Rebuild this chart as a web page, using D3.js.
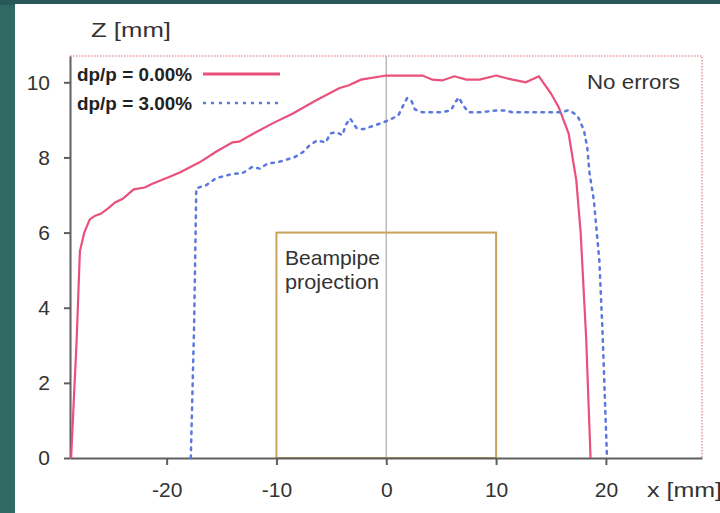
<!DOCTYPE html>
<html>
<head>
<meta charset="utf-8">
<script src="https://cdn.jsdelivr.net/npm/d3@7"></script>
<style>
  body { margin: 0; background: #306963; }
  svg { display: block; font-family: "Liberation Sans", Arial, sans-serif; }
  .ejes text { fill: #333; font-size: 21px; }
  .ejes path, .ejes line { stroke: #5f5f5f; stroke-width: 2; }
</style>
</head>
<body>
<div id="graf"></div>
<script>
// datos
const rojoX = [-28.7, -28.2, -27.9, -27.5, -27.0, -26.5, -26.0, -25.3, -24.7, -24.0, -23.0, -22.0, -21.3, -20.0, -18.8, -17.0, -15.5, -14.0, -13.4, -12.0, -10.4, -8.5, -6.5, -4.3, -3.4, -2.3, 0, 3.3, 4.2, 5.1, 6.2, 7.3, 8.5, 10.0, 11.5, 12.7, 13.9, 15.0, 15.7, 16.6, 17.3, 17.7, 18.2, 18.6]
const rojoZ = [0, 3.1, 5.5, 6.0, 6.35, 6.45, 6.5, 6.65, 6.8, 6.9, 7.15, 7.2, 7.3, 7.45, 7.6, 7.87, 8.15, 8.4, 8.42, 8.65, 8.9, 9.17, 9.5, 9.84, 9.92, 10.07, 10.18, 10.18, 10.07, 10.05, 10.16, 10.07, 10.07, 10.18, 10.07, 10.0, 10.16, 9.7, 9.34, 8.64, 7.4, 6.0, 3.2, 0]

const azulX = [-17.8, -17.5, -17.3, -16.4, -15.5, -14.0, -13.1, -12.2, -11.5, -10.8, -9.9, -9.1, -8.4, -7.6, -7.0, -6.3, -5.5, -5.1, -4.5, -4.0, -3.7, -3.3, -2.7, -2.1, -1.3, -0.5, 0.3, 1.1, 1.5, 1.9, 2.3, 2.6, 3.3, 5.1, 5.9, 6.3, 6.6, 7.0, 7.5, 8.5, 10.0, 10.9, 11.5, 16.0, 16.6, 17.4, 18.0, 18.3, 18.5, 18.9, 19.4, 19.7, 20.1]
const azulZ = [0, 3.5, 7.18, 7.26, 7.45, 7.56, 7.58, 7.75, 7.7, 7.84, 7.87, 7.94, 8.0, 8.14, 8.32, 8.45, 8.4, 8.64, 8.67, 8.59, 8.86, 9.04, 8.78, 8.75, 8.83, 8.91, 9.0, 9.12, 9.36, 9.58, 9.5, 9.28, 9.2, 9.2, 9.26, 9.47, 9.6, 9.39, 9.2, 9.2, 9.25, 9.25, 9.2, 9.2, 9.26, 9.12, 8.72, 8.27, 7.6, 6.86, 5.27, 3.3, 0]

const xTicks = [-20, -10, 0, 10, 20]
const zTicks = [0, 2, 4, 6, 8, 10]
const beampipe = { x0: -10, x1: 10, z: 6 }
const series = [
  { name: "dp/p = 0.00%", xs: rojoX, zs: rojoZ, color: "#e9507a", dash: null },
  { name: "dp/p = 3.00%", xs: azulX, zs: azulZ, color: "#5b78e0", dash: "2.5,5.5" }
]

const W = 720, H = 513
const svg = d3.select("#graf").append("svg").attr("width", W).attr("height", H)

// fondo
svg.append("rect").attr("width", W).attr("height", H).attr("fill", "#306963")
svg.append("rect").attr("width", W).attr("height", 5).attr("fill", "#28585a")
svg.append("rect").attr("x", 15).attr("y", 4).attr("width", W - 15).attr("height", H - 4).attr("fill", "#fff")

const x = d3.scaleLinear().domain([-28.8, 28.75]).range([70, 702])
const y = d3.scaleLinear().domain([0, 10.7]).range([458, 56])

// marco superior y derecho punteado
svg.append("path")
  .attr("d", `M${x.range()[0]},${y(10.7)}H${x.range()[1]}V${y(0)}`)
  .attr("fill", "none").attr("stroke", "#e79a9a").attr("stroke-width", 1.5)
  .attr("stroke-dasharray", "1.5,1.5")

// linea en x=0
svg.append("line")
  .attr("x1", x(0)).attr("x2", x(0)).attr("y1", y(10.7)).attr("y2", y(0))
  .attr("stroke", "#bbb").attr("stroke-width", 1.5)

// beampipe
svg.append("rect")
  .attr("x", x(beampipe.x0)).attr("y", y(beampipe.z))
  .attr("width", x(beampipe.x1) - x(beampipe.x0)).attr("height", y(0) - y(beampipe.z))
  .attr("fill", "none").attr("stroke", "#c9a25a").attr("stroke-width", 2)

const texto = (tx, ty, size, str, len) => {
  const t = svg.append("text").attr("x", tx).attr("y", ty).attr("font-size", size).attr("fill", "#333").text(str)
  if (len) t.attr("textLength", len).attr("lengthAdjust", "spacingAndGlyphs")
  return t
}

texto(285, 265, 21, "Beampipe", 95)
texto(285, 289, 21, "projection", 94)

// ejes
const fmt = (d) => String(d)
const xAxis = d3.axisBottom(x).tickValues(xTicks).tickFormat(fmt).tickSize(7).tickSizeOuter(0).tickPadding(17)
const yAxis = d3.axisLeft(y).tickValues(zTicks).tickFormat(fmt).tickSize(6).tickSizeOuter(0).tickPadding(14)

svg.append("g").attr("class", "ejes").attr("transform", `translate(0, ${y(0)})`).call(xAxis)
svg.append("g").attr("class", "ejes").attr("transform", `translate(${x.range()[0]}, 0)`).call(yAxis)
svg.selectAll(".ejes text").attr("font-family", null)

texto(91, 37, 21, "Z [mm]", 80)
texto(647, 497, 21, "x [mm]", 75)
texto(587, 89, 21, "No errors", 93)

// curvas
const linea = d3.line().x((d) => x(d[0])).y((d) => y(d[1]))
series.forEach((s) => {
  svg.append("path")
    .datum(d3.zip(s.xs, s.zs))
    .attr("d", linea)
    .attr("fill", "none")
    .attr("stroke", s.color)
    .attr("stroke-width", s.dash ? 2.5 : 2.2)
    .attr("stroke-dasharray", s.dash)
    .attr("stroke-linecap", s.dash ? "round" : null)
})

// leyenda
series.forEach((s, i) => {
  const yy = 74 + i * 29
  svg.append("text").attr("x", 77).attr("y", yy + 7)
    .attr("font-size", 18).attr("font-weight", "bold").attr("fill", "#222")
    .attr("textLength", 115).attr("lengthAdjust", "spacingAndGlyphs").text(s.name)
  svg.append("line").attr("x1", 203).attr("x2", 280).attr("y1", yy).attr("y2", yy)
    .attr("stroke", s.color).attr("stroke-width", s.dash ? 2.5 : 3)
    .attr("stroke-dasharray", s.dash ? "3,5" : null)
})
</script>
</body>
</html>
